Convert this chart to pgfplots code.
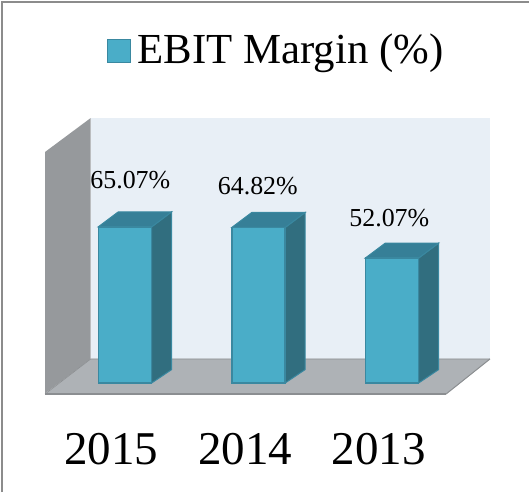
\documentclass[border=0pt]{standalone}
\usepackage{fontspec}
\setmainfont{Liberation Serif}
\usepackage{pgfplots}
\pgfplotsset{compat=1.18}
\definecolor{barfront}{HTML}{4AADC8}
\definecolor{baredge}{HTML}{3A88A0}
\definecolor{bartop}{HTML}{367F97}
\definecolor{barside}{HTML}{316E7F}
\definecolor{backwall}{HTML}{E8EFF6}
\definecolor{sidewall}{HTML}{96999C}
\definecolor{floorc}{HTML}{AEB2B6}
\definecolor{flooredge}{HTML}{8B8E91}
\definecolor{framec}{HTML}{8C8C8C}
\begin{document}
\begin{tikzpicture}[x=1pt,y=1pt]
\useasboundingbox (0pt,0pt) rectangle (529pt,492pt);
\begin{axis}[
  at={(0pt,0pt)}, anchor=south west,
  scale only axis, width=529pt, height=492pt,
  xmin=-0.9363, xmax=3.0262,
  ymin=-45.42, ymax=159.58,
  axis line style={draw=none},
  clip=false,
  xtick={0,1,2}, xticklabels={2015,2014,2013},
  ytick=\empty,
  major tick length=0pt,
  xtick style={draw=none},
  tick label style={font=\fontsize{47}{47}\selectfont},
  xticklabel style={anchor=base, xshift=-13.5pt, yshift=27.5pt, inner sep=0pt, outer sep=0pt},
  xticklabel shift=0pt,
  legend style={draw=none, fill=none, at={(rel axis cs:0.202,0.896)}, anchor=west,
    font=\fontsize{42.8}{43}\selectfont, inner sep=0pt, outer sep=0pt,
    legend cell align=left,
    nodes={inner sep=0pt, outer sep=0pt}},
  legend image code/.code={
    \draw[draw=baredge, line width=1.2pt, fill=barfront] (0pt,-11.5pt) rectangle (23pt,11.5pt);
  },
]
% frame
\addplot[forget plot, draw=framec, line width=2.5pt, mark=none]
  coordinates {(-0.9213,-45.42) (-0.9213,158.76) (3.0262,158.76)};
% back wall
\addplot[forget plot, fill=backwall, draw=none, mark=none]
  coordinates {(-0.257,110.4) (2.734,110.4) (2.734,10) (-0.257,10)} -- cycle;
% side wall
\addplot[forget plot, fill=sidewall, draw=none, mark=none]
  coordinates {(-0.599,96.25) (-0.257,110.4) (-0.257,10) (-0.599,-4.4)} -- cycle;
% floor
\addplot[forget plot, fill=floorc, draw=none, mark=none]
  coordinates {(-0.599,-4.6) (-0.257,10) (2.734,10) (2.405,-4.6)} -- cycle;
\addplot[forget plot, draw=flooredge, line width=1.4pt, mark=none]
  coordinates {(-0.599,-4.6) (2.405,-4.6)};
\addplot[forget plot, draw=flooredge, line width=1pt, mark=none]
  coordinates {(2.405,-4.6) (2.734,10)};
\addplot[forget plot, draw=flooredge, line width=.6pt, mark=none]
  coordinates {(-0.599,-4.6) (-0.257,10) (2.734,10)};
% bar sides and tops: depth 20 px across, 15 px up
\addplot[forget plot, fill=barside, draw=baredge, line width=1pt, mark=none]
  coordinates {(0.2,0) (0.35,5.6) (0.35,71.32) (0.2,65.07)} -- cycle;
\addplot[forget plot, fill=bartop, draw=baredge, line width=1pt, mark=none]
  coordinates {(-0.2,65.07) (-0.05,71.32) (0.35,71.32) (0.2,65.07)} -- cycle;
\addplot[forget plot, fill=barside, draw=baredge, line width=1pt, mark=none]
  coordinates {(1.2,0) (1.35,5.6) (1.35,71.07) (1.2,64.82)} -- cycle;
\addplot[forget plot, fill=bartop, draw=baredge, line width=1pt, mark=none]
  coordinates {(0.8,64.82) (0.95,71.07) (1.35,71.07) (1.2,64.82)} -- cycle;
\addplot[forget plot, fill=barside, draw=baredge, line width=1pt, mark=none]
  coordinates {(2.2,0) (2.35,5.6) (2.35,58.32) (2.2,52.07)} -- cycle;
\addplot[forget plot, fill=bartop, draw=baredge, line width=1pt, mark=none]
  coordinates {(1.8,52.07) (1.95,58.32) (2.35,58.32) (2.2,52.07)} -- cycle;
% bar fronts
\addplot[ybar, bar width=53.4pt, fill=barfront, draw=baredge, line width=1.5pt, bar shift=0pt]
  coordinates {(0,65.07) (1,64.82) (2,52.07)};
\addlegendentry{\hspace{6.5pt}\raisebox{4pt}{EBIT Margin (\%)}}
\node[font=\fontsize{25.9}{26}\selectfont] at (axis cs:0.04,84.4) {65.07\%};
\node[font=\fontsize{25.9}{26}\selectfont] at (axis cs:0.995,81.9) {64.82\%};
\node[font=\fontsize{25.9}{26}\selectfont] at (axis cs:1.98,68.6) {52.07\%};
\end{axis}
\end{tikzpicture}
\end{document}
